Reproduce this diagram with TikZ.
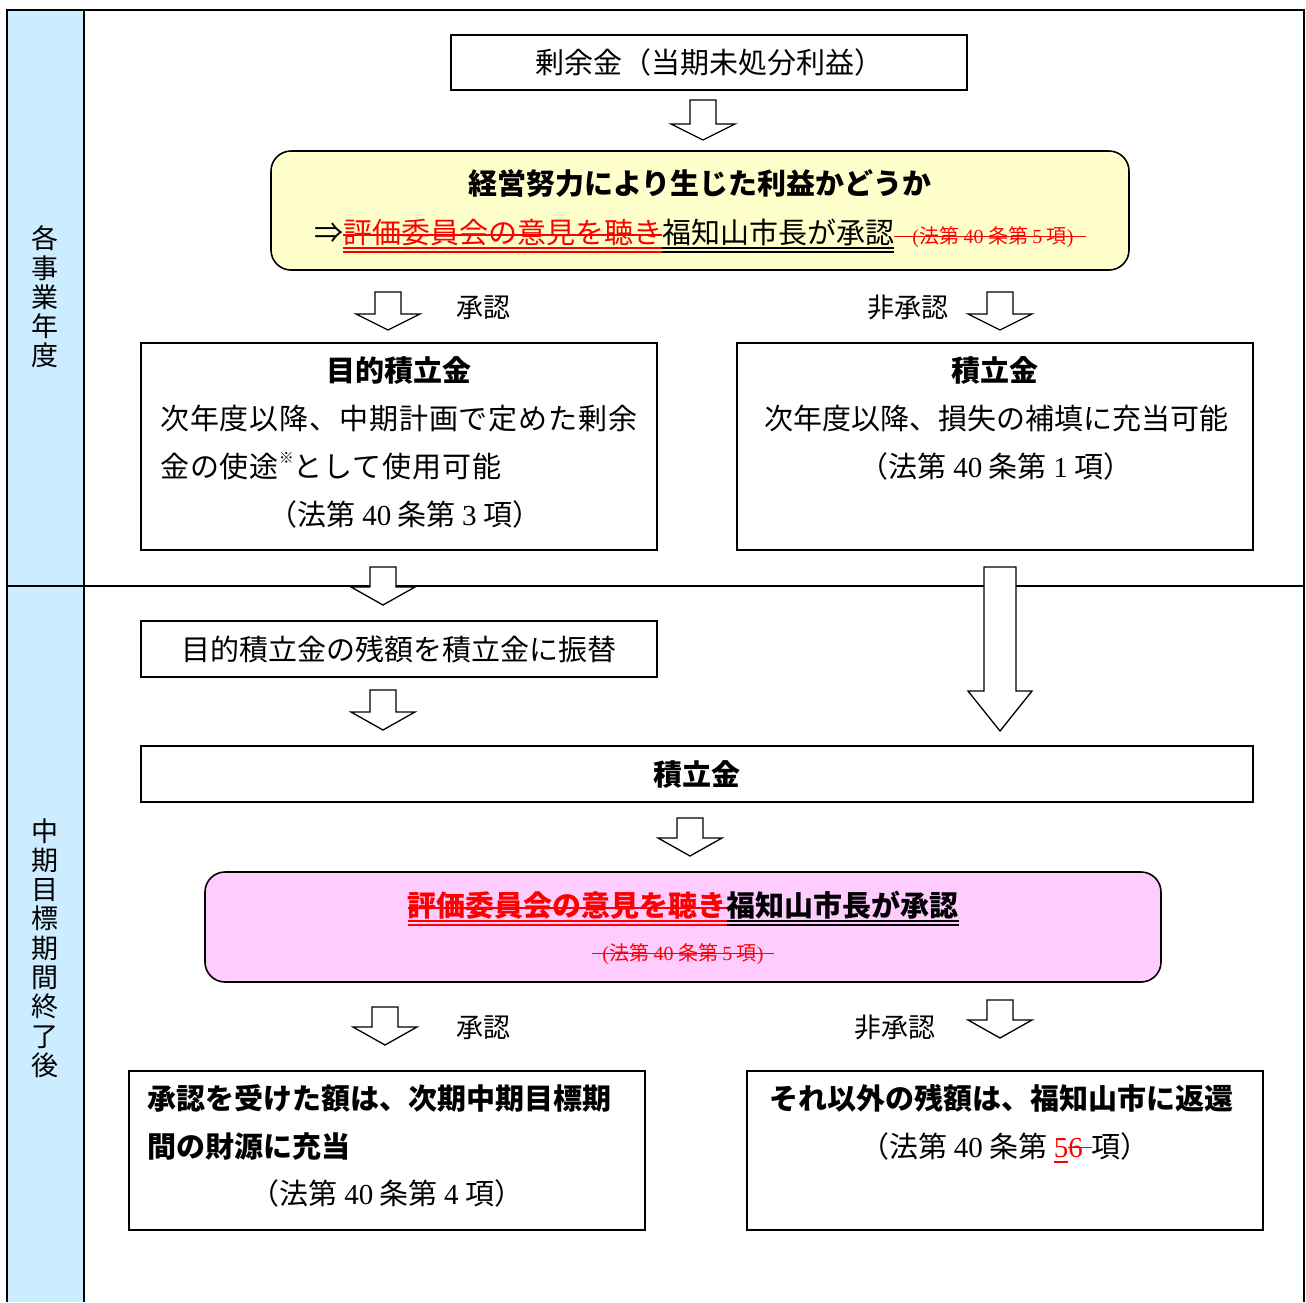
\documentclass[tikz,border=0pt]{standalone}
\usepackage{fontspec}
\setmainfont{Noto Sans CJK JP}
\newfontfamily\ser{Liberation Serif}
\definecolor{yel}{HTML}{FFFFCC}
\definecolor{pnk}{HTML}{FFCCFF}
\definecolor{blu}{HTML}{CCECFF}
\newcommand\fs[1]{\fontsize{#1}{#1}\selectfont}
\newcommand\stk[2]{\setbox0\hbox{#2}\rlap{\rule[#1]{\wd0}{1.3pt}}\box0}
\newcommand\uul[1]{\setbox0\hbox{#1}\rlap{\rule[-0.2em]{\wd0}{1.6pt}}\rlap{\rule[-0.33em]{\wd0}{1.6pt}}\box0}
\newcommand\sul[1]{\setbox0\hbox{#1}\rlap{\rule[-0.2em]{\wd0}{1.6pt}}\box0}
\newcommand\barrow[5]{%
  \draw[arr] ({#1-#5},#2) -- ({#1+#5},#2) -- ({#1+#5},{#3-#4}) -- ({#1+32},{#3-#4})
    -- (#1,#3) -- ({#1-32},{#3-#4}) -- ({#1-#5},{#3-#4}) -- cycle;}
\begin{document}
\begin{tikzpicture}[x=1pt,y=-1pt,
  frame/.style={draw=black,line width=1.6pt},
  box/.style={draw=black,line width=1.6pt,fill=white,inner sep=0pt,font=\fs{29}},
  ybox/.style={box,fill=yel,rounded corners=20pt},
  pbox/.style={box,fill=pnk,rounded corners=20pt},
  txt/.style={inner sep=0pt,font=\fs{29},anchor=base},
  btxt/.style={txt,font=\fs{29}\bfseries},
  stxt/.style={txt,font=\fs{29}\addfontfeature{LetterSpace=3}},
  lbl/.style={inner sep=0pt,font=\fs{27},anchor=base},
  vlab/.style={inner sep=0pt,align=center,font=\fontsize{27}{29.3}\selectfont},
  arr/.style={draw=black,fill=white,line width=1.3pt,line join=miter}]
\useasboundingbox (0,0) rectangle (1306,1302);
\fill[white] (0,0) rectangle (1306,1302);
% frame
\fill[blu] (7,10) rectangle (84,1302);
\draw[frame] (7,1302) -- (7,10) -- (1304,10) -- (1304,1302);
\draw[frame] (84,10) -- (84,1302);
\draw[frame] (7,586) -- (1304,586);
\node[vlab] (lab1) at (45,297) {各\\事\\業\\年\\度};
\node[vlab] (lab2) at (45,948) {中\\期\\目\\標\\期\\間\\終\\了\\後};
% boxes
\node[box,minimum width=516pt,minimum height=55pt] (surplus) at (709,62.5) {剰余金（当期未処分利益）};
\node[ybox,minimum width=858pt,minimum height=119pt] (judge) at (700,210.5) {};
\node[btxt] (judge1) at (700,194) {経営努力により生じた利益かどうか};
\node[txt] (judge2) at (700,243) {⇒{\color{red}\uul{\stk{0.25em}{評価委員会の意見を聴き}}}\uul{福知山市長が承認}{\color{red}\fs{20}\stk{0.3em}{\hspace{0.9em}{\ser(}法第 {\ser 40} 条第 {\ser 5} 項{\ser)}\hspace{0.6em}}}};
\node[box,minimum width=516pt,minimum height=207pt] (purpose) at (399,446.5) {};
\node[btxt] (purpose1) at (399,381) {目的積立金};
\node[stxt,anchor=base west] (purpose2) at (160,429) {次年度以降、中期計画で定めた剰余};
\node[stxt,anchor=base west] (purpose3) at (160,477) {金の使途\raisebox{0.45em}{\fs{15}※}として使用可能};
\node[txt] (purpose4) at (405,525) {（法第 {\ser 40} 条第 {\ser 3} 項）};
\node[box,minimum width=516pt,minimum height=207pt] (reserve) at (995,446.5) {};
\node[btxt] (reserve1) at (995,381) {積立金};
\node[txt] (reserve2) at (996,429) {次年度以降、損失の補填に充当可能};
\node[txt] (reserve3) at (996,477) {（法第 {\ser 40} 条第 {\ser 1} 項）};
\node[box,minimum width=516pt,minimum height=56pt] (transfer) at (399,649) {目的積立金の残額を積立金に振替};
\node[box,minimum width=1112pt,minimum height=56pt,font=\fs{29}\bfseries] (reserveall) at (697,774) {積立金};
\node[pbox,minimum width=956pt,minimum height=110pt] (approve) at (683,927) {};
\node[btxt] (approve1) at (683,916) {{\color{red}\uul{\stk{0.25em}{評価委員会の意見を聴き}}}\uul{福知山市長が承認}};
\node[txt,font=\fs{20}] (approve2) at (683,960) {{\color{red}\stk{0.3em}{\hspace{0.5em}{\ser(}法第 {\ser 40} 条第 {\ser 5} 項{\ser)}\hspace{0.5em}}}};
\node[box,minimum width=516pt,minimum height=159pt] (carry) at (387,1150.5) {};
\node[btxt,anchor=base west] (carry1) at (147,1109) {承認を受けた額は、次期中期目標期};
\node[btxt,anchor=base west] (carry2) at (147,1157) {間の財源に充当};
\node[txt] (carry3) at (387,1204) {（法第 {\ser 40} 条第 {\ser 4} 項）};
\node[box,minimum width=516pt,minimum height=159pt] (back) at (1005,1150.5) {};
\node[btxt] (back1) at (1001,1109) {それ以外の残額は、福知山市に返還};
\node[txt] (back2) at (1005,1157) {（法第 {\ser 40} 条第 {\color{red}\ser\sul{5}\stk{0.3em}{6\hspace{0.3em}}}項）};
% labels
\node[lbl] (ok1) at (483,317) {承認};
\node[lbl] (ng1) at (908,317) {非承認};
\node[lbl] (ok2) at (483,1037) {承認};
\node[lbl] (ng2) at (895,1037) {非承認};
% block arrows
\barrow{703}{100}{140}{16}{13}
\barrow{388}{292}{330}{16}{13}
\barrow{1000}{292}{330}{16}{13}
\barrow{383}{567}{605}{18}{13}
\barrow{383}{690}{730}{18}{13}
\barrow{1000}{567}{731}{40}{16}
\barrow{690}{818}{856}{18}{13}
\barrow{385}{1007}{1045}{18}{13}
\barrow{1000}{1000}{1038}{18}{13}
\end{tikzpicture}
\end{document}
